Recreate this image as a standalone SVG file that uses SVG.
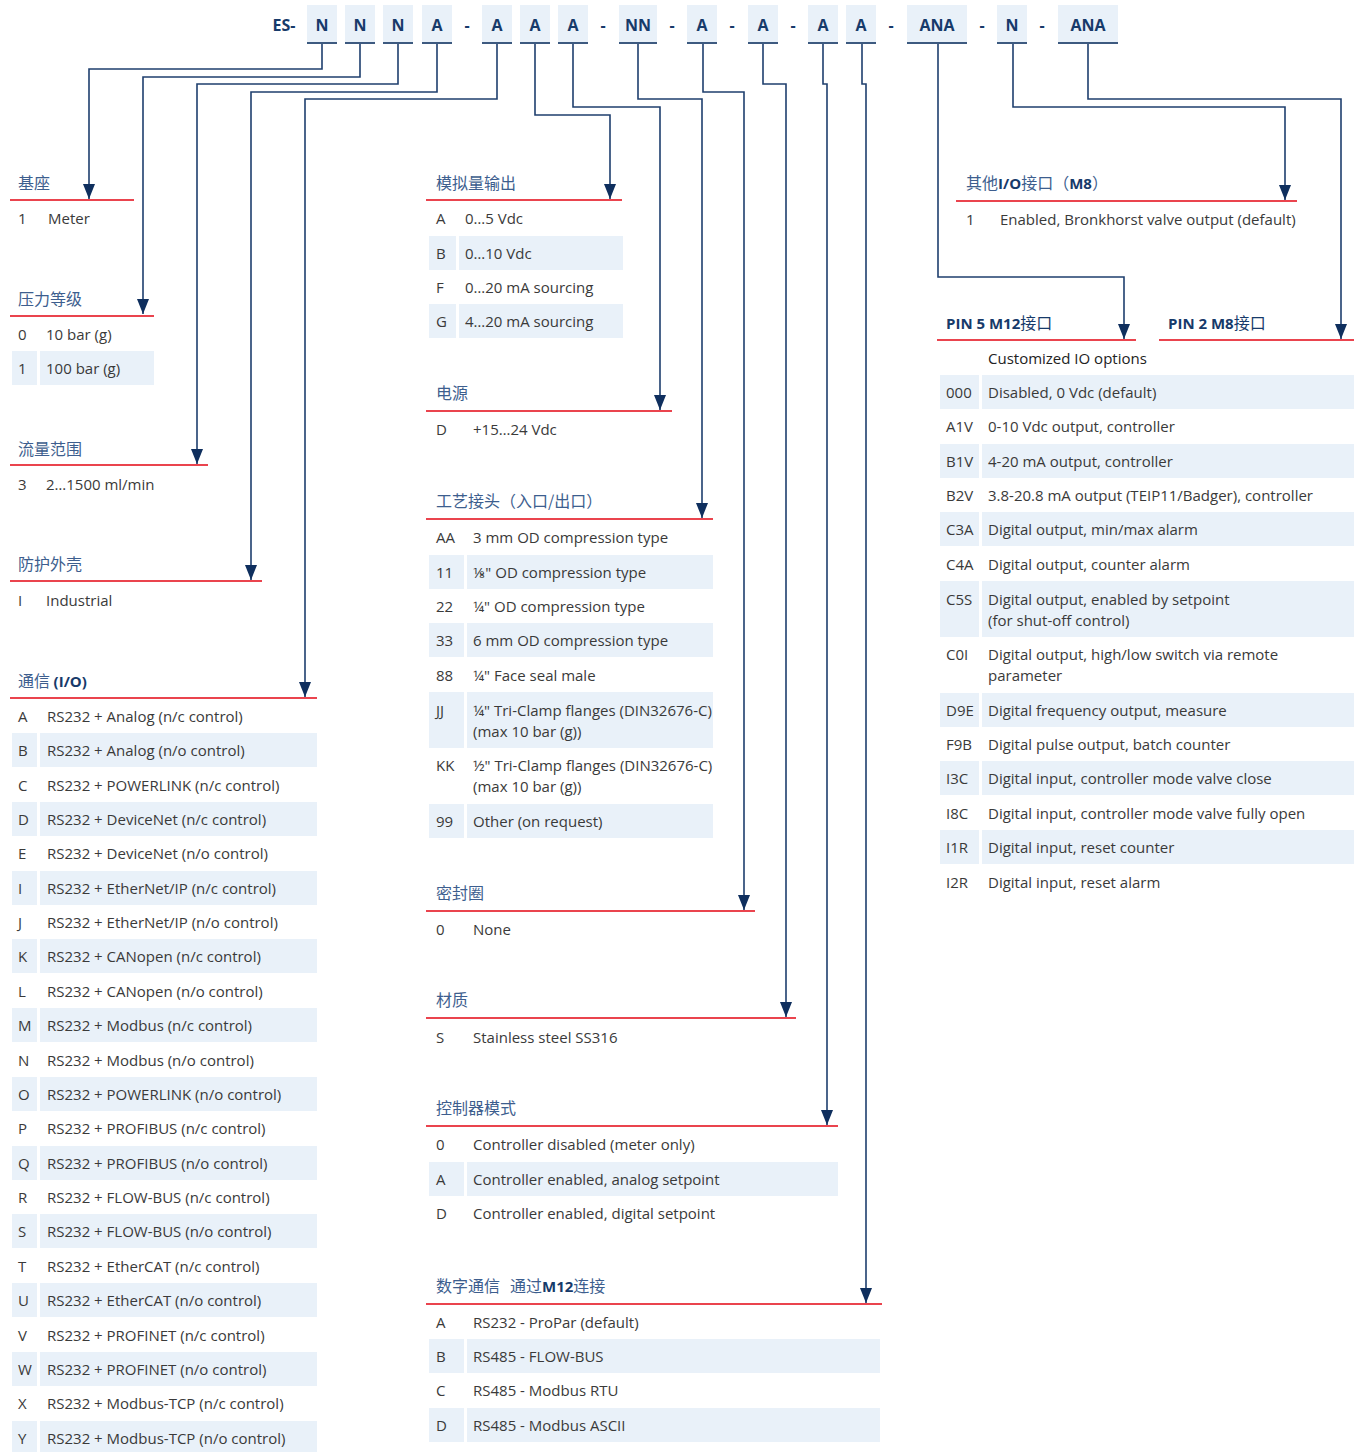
<svg xmlns="http://www.w3.org/2000/svg" width="1360" height="1452" viewBox="0 0 1360 1452">
<style>
.bx{fill:#e9f1f9}
.bl{stroke:#3d5a80;stroke-width:2}
.hk{font-family:"Open Sans","Noto Sans",sans-serif;font-weight:700;font-size:16px;fill:#173a6a;text-anchor:middle}
.ds{font-family:"Open Sans","Noto Sans",sans-serif;font-weight:700;font-size:16px;fill:#173a6a;text-anchor:middle}
.ti{font-family:"Noto Sans CJK SC","Noto Sans",sans-serif;font-size:16px;fill:#3d5e8e}
.tb{font-family:"Open Sans","Noto Sans","Noto Sans CJK SC",sans-serif;font-weight:700;fill:#173a6a}
.t{font-family:"Open Sans","Noto Sans",sans-serif;font-size:15px;fill:#3a3a3a}
.sh{fill:#e9f1f9}
.rl{stroke:#e30613;stroke-width:1.5}
.cn{fill:none;stroke:#1f3f6e;stroke-width:1.6}
</style>
<defs>
<marker id="ar" markerUnits="userSpaceOnUse" markerWidth="15" markerHeight="12" refX="15" refY="6" orient="auto">
<path d="M0,0 L15,6 L0,12 z" fill="#0f2f5e"/>
</marker>
</defs>
<rect width="1360" height="1452" fill="#ffffff"/>

<g id="header">
<text x="284" y="31" class="hk">ES-</text>
<rect x="307" y="5" width="30" height="38" class="bx"/><line x1="307" y1="43" x2="337" y2="43" class="bl"/><text x="322" y="31" class="hk">N</text>
<rect x="345" y="5" width="30" height="38" class="bx"/><line x1="345" y1="43" x2="375" y2="43" class="bl"/><text x="360" y="31" class="hk">N</text>
<rect x="383" y="5" width="30" height="38" class="bx"/><line x1="383" y1="43" x2="413" y2="43" class="bl"/><text x="398" y="31" class="hk">N</text>
<rect x="422" y="5" width="30" height="38" class="bx"/><line x1="422" y1="43" x2="452" y2="43" class="bl"/><text x="437" y="31" class="hk">A</text>
<text x="467" y="31" class="ds">-</text>
<rect x="482" y="5" width="30" height="38" class="bx"/><line x1="482" y1="43" x2="512" y2="43" class="bl"/><text x="497" y="31" class="hk">A</text>
<rect x="520" y="5" width="30" height="38" class="bx"/><line x1="520" y1="43" x2="550" y2="43" class="bl"/><text x="535" y="31" class="hk">A</text>
<rect x="558" y="5" width="30" height="38" class="bx"/><line x1="558" y1="43" x2="588" y2="43" class="bl"/><text x="573" y="31" class="hk">A</text>
<text x="603" y="31" class="ds">-</text>
<rect x="619" y="5" width="38" height="38" class="bx"/><line x1="619" y1="43" x2="657" y2="43" class="bl"/><text x="638" y="31" class="hk">NN</text>
<text x="672" y="31" class="ds">-</text>
<rect x="687" y="5" width="30" height="38" class="bx"/><line x1="687" y1="43" x2="717" y2="43" class="bl"/><text x="702" y="31" class="hk">A</text>
<text x="732" y="31" class="ds">-</text>
<rect x="748" y="5" width="30" height="38" class="bx"/><line x1="748" y1="43" x2="778" y2="43" class="bl"/><text x="763" y="31" class="hk">A</text>
<text x="793" y="31" class="ds">-</text>
<rect x="808" y="5" width="30" height="38" class="bx"/><line x1="808" y1="43" x2="838" y2="43" class="bl"/><text x="823" y="31" class="hk">A</text>
<rect x="846" y="5" width="30" height="38" class="bx"/><line x1="846" y1="43" x2="876" y2="43" class="bl"/><text x="861" y="31" class="hk">A</text>
<text x="891" y="31" class="ds">-</text>
<rect x="907" y="5" width="60" height="38" class="bx"/><line x1="907" y1="43" x2="967" y2="43" class="bl"/><text x="937" y="31" class="hk">ANA</text>
<text x="982" y="31" class="ds">-</text>
<rect x="997" y="5" width="30" height="38" class="bx"/><line x1="997" y1="43" x2="1027" y2="43" class="bl"/><text x="1012" y="31" class="hk">N</text>
<text x="1042" y="31" class="ds">-</text>
<rect x="1058" y="5" width="60" height="38" class="bx"/><line x1="1058" y1="43" x2="1118" y2="43" class="bl"/><text x="1088" y="31" class="hk">ANA</text>
</g>

<g id="connectors">
<path class="cn" marker-end="url(#ar)" d="M322,44 V69 H89 V199"/>
<path class="cn" marker-end="url(#ar)" d="M360,44 V77 H143 V314"/>
<path class="cn" marker-end="url(#ar)" d="M398,44 V84 H197 V464"/>
<path class="cn" marker-end="url(#ar)" d="M437,44 V92 H251 V580"/>
<path class="cn" marker-end="url(#ar)" d="M497,44 V99 H305 V697"/>
<path class="cn" marker-end="url(#ar)" d="M535,44 V115 H610 V199"/>
<path class="cn" marker-end="url(#ar)" d="M573,44 V107 H660 V410"/>
<path class="cn" marker-end="url(#ar)" d="M638,44 V99 H702 V518"/>
<path class="cn" marker-end="url(#ar)" d="M703,44 V92 H744 V910"/>
<path class="cn" marker-end="url(#ar)" d="M763,44 V84 H786 V1017"/>
<path class="cn" marker-end="url(#ar)" d="M823,44 V84 H827 V1125"/>
<path class="cn" marker-end="url(#ar)" d="M862,44 V84 H866 V1303"/>
<path class="cn" marker-end="url(#ar)" d="M938,44 V277 H1124 V339"/>
<path class="cn" marker-end="url(#ar)" d="M1013,44 V107 H1285 V200"/>
<path class="cn" marker-end="url(#ar)" d="M1088,44 V99 H1341 V339"/>
</g>

<g id="base">
<text x="18" y="189" class="ti">基座</text>
<line x1="10" y1="200" x2="134" y2="200" class="rl"/>
<text x="18" y="224" class="t">1</text><text x="48" y="224" class="t">Meter</text>
</g>

<g id="pressure">
<text x="18" y="305" class="ti">压力等级</text>
<line x1="10" y1="316" x2="154" y2="316" class="rl"/>
<text x="18" y="340" class="t">0</text><text x="46" y="340" class="t">10 bar (g)</text>
<rect x="12" y="351" width="25" height="34" class="sh"/><rect x="40" y="351" width="114" height="34" class="sh"/>
<text x="18" y="374" class="t">1</text><text x="46" y="374" class="t">100 bar (g)</text>
</g>

<g id="flow">
<text x="18" y="455" class="ti">流量范围</text>
<line x1="10" y1="465" x2="208" y2="465" class="rl"/>
<text x="18" y="490" class="t">3</text><text x="46" y="490" class="t">2…1500 ml/min</text>
</g>

<g id="housing">
<text x="18" y="570" class="ti">防护外壳</text>
<line x1="10" y1="581" x2="262" y2="581" class="rl"/>
<text x="18" y="606" class="t">I</text><text x="46" y="606" class="t">Industrial</text>
</g>

<g id="comm">
<text x="18" y="687" class="ti">通信 <tspan class="tb" font-size="15">(I/O)</tspan></text>
<line x1="10" y1="698" x2="317" y2="698" class="rl"/>
<rect x="12" y="733" width="25" height="34" class="sh"/><rect x="40" y="733" width="277" height="34" class="sh"/>
<rect x="12" y="802" width="25" height="34" class="sh"/><rect x="40" y="802" width="277" height="34" class="sh"/>
<rect x="12" y="871" width="25" height="34" class="sh"/><rect x="40" y="871" width="277" height="34" class="sh"/>
<rect x="12" y="939" width="25" height="34" class="sh"/><rect x="40" y="939" width="277" height="34" class="sh"/>
<rect x="12" y="1008" width="25" height="34" class="sh"/><rect x="40" y="1008" width="277" height="34" class="sh"/>
<rect x="12" y="1077" width="25" height="34" class="sh"/><rect x="40" y="1077" width="277" height="34" class="sh"/>
<rect x="12" y="1146" width="25" height="34" class="sh"/><rect x="40" y="1146" width="277" height="34" class="sh"/>
<rect x="12" y="1214" width="25" height="34" class="sh"/><rect x="40" y="1214" width="277" height="34" class="sh"/>
<rect x="12" y="1283" width="25" height="34" class="sh"/><rect x="40" y="1283" width="277" height="34" class="sh"/>
<rect x="12" y="1352" width="25" height="34" class="sh"/><rect x="40" y="1352" width="277" height="34" class="sh"/>
<rect x="12" y="1421" width="25" height="31" class="sh"/><rect x="40" y="1421" width="277" height="31" class="sh"/>
<text x="18" y="722" class="t">A</text><text x="47" y="722" class="t">RS232 + Analog (n/c control)</text>
<text x="18" y="756" class="t">B</text><text x="47" y="756" class="t">RS232 + Analog (n/o control)</text>
<text x="18" y="791" class="t">C</text><text x="47" y="791" class="t">RS232 + POWERLINK (n/c control)</text>
<text x="18" y="825" class="t">D</text><text x="47" y="825" class="t">RS232 + DeviceNet (n/c control)</text>
<text x="18" y="859" class="t">E</text><text x="47" y="859" class="t">RS232 + DeviceNet (n/o control)</text>
<text x="18" y="894" class="t">I</text><text x="47" y="894" class="t">RS232 + EtherNet/IP (n/c control)</text>
<text x="18" y="928" class="t">J</text><text x="47" y="928" class="t">RS232 + EtherNet/IP (n/o control)</text>
<text x="18" y="962" class="t">K</text><text x="47" y="962" class="t">RS232 + CANopen (n/c control)</text>
<text x="18" y="997" class="t">L</text><text x="47" y="997" class="t">RS232 + CANopen (n/o control)</text>
<text x="18" y="1031" class="t">M</text><text x="47" y="1031" class="t">RS232 + Modbus (n/c control)</text>
<text x="18" y="1066" class="t">N</text><text x="47" y="1066" class="t">RS232 + Modbus (n/o control)</text>
<text x="18" y="1100" class="t">O</text><text x="47" y="1100" class="t">RS232 + POWERLINK (n/o control)</text>
<text x="18" y="1134" class="t">P</text><text x="47" y="1134" class="t">RS232 + PROFIBUS (n/c control)</text>
<text x="18" y="1169" class="t">Q</text><text x="47" y="1169" class="t">RS232 + PROFIBUS (n/o control)</text>
<text x="18" y="1203" class="t">R</text><text x="47" y="1203" class="t">RS232 + FLOW-BUS (n/c control)</text>
<text x="18" y="1237" class="t">S</text><text x="47" y="1237" class="t">RS232 + FLOW-BUS (n/o control)</text>
<text x="18" y="1272" class="t">T</text><text x="47" y="1272" class="t">RS232 + EtherCAT (n/c control)</text>
<text x="18" y="1306" class="t">U</text><text x="47" y="1306" class="t">RS232 + EtherCAT (n/o control)</text>
<text x="18" y="1341" class="t">V</text><text x="47" y="1341" class="t">RS232 + PROFINET (n/c control)</text>
<text x="18" y="1375" class="t">W</text><text x="47" y="1375" class="t">RS232 + PROFINET (n/o control)</text>
<text x="18" y="1409" class="t">X</text><text x="47" y="1409" class="t">RS232 + Modbus-TCP (n/c control)</text>
<text x="18" y="1444" class="t">Y</text><text x="47" y="1444" class="t">RS232 + Modbus-TCP (n/o control)</text>
</g>

<g id="analog">
<text x="436" y="189" class="ti">模拟量输出</text>
<line x1="426" y1="200" x2="622" y2="200" class="rl"/>
<rect x="429" y="236" width="27" height="34" class="sh"/><rect x="459" y="236" width="164" height="34" class="sh"/>
<rect x="429" y="304" width="27" height="34" class="sh"/><rect x="459" y="304" width="164" height="34" class="sh"/>
<text x="436" y="224" class="t">A</text><text x="465" y="224" class="t">0…5 Vdc</text>
<text x="436" y="259" class="t">B</text><text x="465" y="259" class="t">0…10 Vdc</text>
<text x="436" y="293" class="t">F</text><text x="465" y="293" class="t">0…20 mA sourcing</text>
<text x="436" y="327" class="t">G</text><text x="465" y="327" class="t">4…20 mA sourcing</text>
</g>

<g id="power">
<text x="436" y="399" class="ti">电源</text>
<line x1="426" y1="411" x2="672" y2="411" class="rl"/>
<text x="436" y="435" class="t">D</text><text x="473" y="435" class="t">+15…24 Vdc</text>
</g>

<g id="fittings">
<text x="436" y="507" class="ti">工艺接头（入口/出口）</text>
<line x1="426" y1="519" x2="713" y2="519" class="rl"/>
<rect x="429" y="555" width="35" height="34" class="sh"/><rect x="467" y="555" width="246" height="34" class="sh"/>
<rect x="429" y="623" width="35" height="34" class="sh"/><rect x="467" y="623" width="246" height="34" class="sh"/>
<rect x="429" y="692" width="35" height="56" class="sh"/><rect x="467" y="692" width="246" height="56" class="sh"/>
<rect x="429" y="804" width="35" height="34" class="sh"/><rect x="467" y="804" width="246" height="34" class="sh"/>
<text x="436" y="543" class="t">AA</text><text x="473" y="543" class="t">3 mm OD compression type</text>
<text x="436" y="578" class="t">11</text><text x="473" y="578" class="t">⅛" OD compression type</text>
<text x="436" y="612" class="t">22</text><text x="473" y="612" class="t">¼" OD compression type</text>
<text x="436" y="646" class="t">33</text><text x="473" y="646" class="t">6 mm OD compression type</text>
<text x="436" y="681" class="t">88</text><text x="473" y="681" class="t">¼" Face seal male</text>
<text x="436" y="716" class="t">JJ</text><text x="473" y="716" class="t">¼" Tri-Clamp flanges (DIN32676-C)</text><text x="473" y="737" class="t">(max 10 bar (g))</text>
<text x="436" y="771" class="t">KK</text><text x="473" y="771" class="t">½" Tri-Clamp flanges (DIN32676-C)</text><text x="473" y="792" class="t">(max 10 bar (g))</text>
<text x="436" y="827" class="t">99</text><text x="473" y="827" class="t">Other (on request)</text>
</g>

<g id="seal">
<text x="436" y="899" class="ti">密封圈</text>
<line x1="426" y1="911" x2="755" y2="911" class="rl"/>
<text x="436" y="935" class="t">0</text><text x="473" y="935" class="t">None</text>
</g>

<g id="material">
<text x="436" y="1006" class="ti">材质</text>
<line x1="426" y1="1018" x2="796" y2="1018" class="rl"/>
<text x="436" y="1043" class="t">S</text><text x="473" y="1043" class="t">Stainless steel SS316</text>
</g>

<g id="controller">
<text x="436" y="1114" class="ti">控制器模式</text>
<line x1="426" y1="1126" x2="838" y2="1126" class="rl"/>
<rect x="429" y="1162" width="35" height="34" class="sh"/><rect x="467" y="1162" width="371" height="34" class="sh"/>
<text x="436" y="1150" class="t">0</text><text x="473" y="1150" class="t">Controller disabled (meter only)</text>
<text x="436" y="1185" class="t">A</text><text x="473" y="1185" class="t">Controller enabled, analog setpoint</text>
<text x="436" y="1219" class="t">D</text><text x="473" y="1219" class="t">Controller enabled, digital setpoint</text>
</g>

<g id="digital">
<text x="436" y="1292" class="ti">数字通信<tspan dx="10">通过</tspan><tspan class="tb" font-size="15">M12</tspan>连接</text>
<line x1="426" y1="1304" x2="882" y2="1304" class="rl"/>
<rect x="429" y="1339" width="35" height="34" class="sh"/><rect x="467" y="1339" width="413" height="34" class="sh"/>
<rect x="429" y="1408" width="35" height="34" class="sh"/><rect x="467" y="1408" width="413" height="34" class="sh"/>
<text x="436" y="1328" class="t">A</text><text x="473" y="1328" class="t">RS232 - ProPar (default)</text>
<text x="436" y="1362" class="t">B</text><text x="473" y="1362" class="t">RS485 - FLOW-BUS</text>
<text x="436" y="1396" class="t">C</text><text x="473" y="1396" class="t">RS485 - Modbus RTU</text>
<text x="436" y="1431" class="t">D</text><text x="473" y="1431" class="t">RS485 - Modbus ASCII</text>
</g>

<g id="otherio">
<text x="966" y="189" class="ti">其他<tspan class="tb" font-size="15">I/O</tspan>接口（<tspan class="tb" font-size="15">M8</tspan>）</text>
<line x1="956" y1="201" x2="1297" y2="201" class="rl"/>
<text x="966" y="225" class="t">1</text><text x="1000" y="225" class="t">Enabled, Bronkhorst valve output (default)</text>
</g>

<g id="pin5">
<text x="946" y="329" class="tb" font-size="15">PIN 5 M12<tspan font-weight="400" font-family="Noto Sans CJK SC,sans-serif" font-size="16">接口</tspan></text>
<line x1="937" y1="340" x2="1136" y2="340" class="rl"/>
</g>

<g id="pin2">
<text x="1168" y="329" class="tb" font-size="15">PIN 2 M8<tspan font-weight="400" font-family="Noto Sans CJK SC,sans-serif" font-size="16">接口</tspan></text>
<line x1="1159" y1="340" x2="1354" y2="340" class="rl"/>
</g>

<g id="customio">
<text x="988" y="364" class="t" style="fill:#222">Customized IO options</text>
<rect x="940" y="375" width="39" height="34" class="sh"/><rect x="982" y="375" width="372" height="34" class="sh"/>
<rect x="940" y="444" width="39" height="34" class="sh"/><rect x="982" y="444" width="372" height="34" class="sh"/>
<rect x="940" y="512" width="39" height="34" class="sh"/><rect x="982" y="512" width="372" height="34" class="sh"/>
<rect x="940" y="581" width="39" height="56" class="sh"/><rect x="982" y="581" width="372" height="56" class="sh"/>
<rect x="940" y="693" width="39" height="34" class="sh"/><rect x="982" y="693" width="372" height="34" class="sh"/>
<rect x="940" y="761" width="39" height="34" class="sh"/><rect x="982" y="761" width="372" height="34" class="sh"/>
<rect x="940" y="830" width="39" height="34" class="sh"/><rect x="982" y="830" width="372" height="34" class="sh"/>
<text x="946" y="398" class="t">000</text><text x="988" y="398" class="t">Disabled, 0 Vdc (default)</text>
<text x="946" y="432" class="t">A1V</text><text x="988" y="432" class="t">0-10 Vdc output, controller</text>
<text x="946" y="467" class="t">B1V</text><text x="988" y="467" class="t">4-20 mA output, controller</text>
<text x="946" y="501" class="t">B2V</text><text x="988" y="501" class="t">3.8-20.8 mA output (TEIP11/Badger), controller</text>
<text x="946" y="535" class="t">C3A</text><text x="988" y="535" class="t">Digital output, min/max alarm</text>
<text x="946" y="570" class="t">C4A</text><text x="988" y="570" class="t">Digital output, counter alarm</text>
<text x="946" y="605" class="t">C5S</text><text x="988" y="605" class="t">Digital output, enabled by setpoint</text><text x="988" y="626" class="t">(for shut-off control)</text>
<text x="946" y="660" class="t">C0I</text><text x="988" y="660" class="t">Digital output, high/low switch via remote</text><text x="988" y="681" class="t">parameter</text>
<text x="946" y="716" class="t">D9E</text><text x="988" y="716" class="t">Digital frequency output, measure</text>
<text x="946" y="750" class="t">F9B</text><text x="988" y="750" class="t">Digital pulse output, batch counter</text>
<text x="946" y="784" class="t">I3C</text><text x="988" y="784" class="t">Digital input, controller mode valve close</text>
<text x="946" y="819" class="t">I8C</text><text x="988" y="819" class="t">Digital input, controller mode valve fully open</text>
<text x="946" y="853" class="t">I1R</text><text x="988" y="853" class="t">Digital input, reset counter</text>
<text x="946" y="888" class="t">I2R</text><text x="988" y="888" class="t">Digital input, reset alarm</text>
</g>
</svg>
